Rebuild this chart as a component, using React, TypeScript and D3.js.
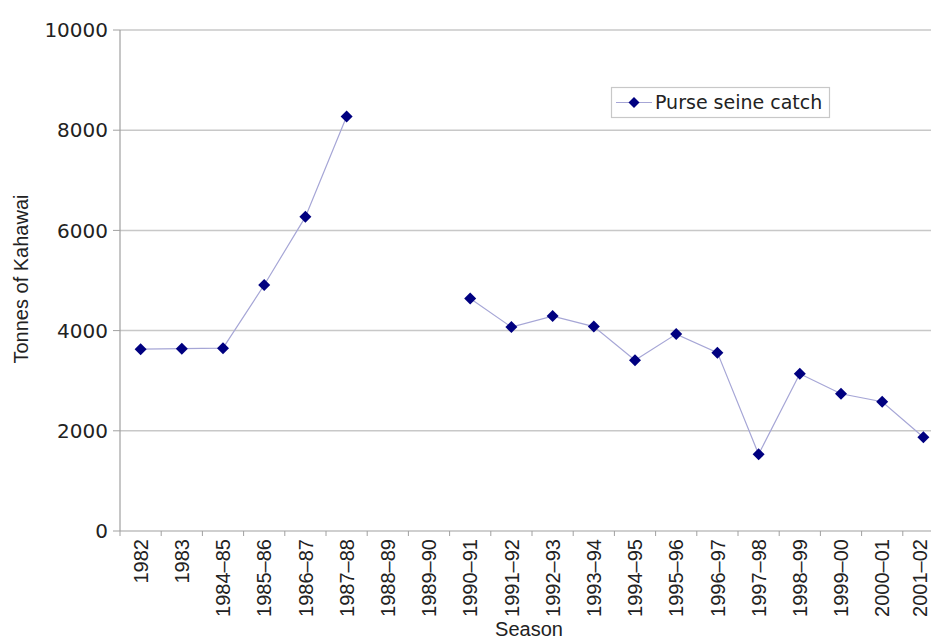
import React from "react";
import * as d3 from "d3";

const seasons = [
  "1982", "1983", "1984–85", "1985–86", "1986–87", "1987–88", "1988–89", "1989–90",
  "1990–91", "1991–92", "1992–93", "1993–94", "1994–95", "1995–96", "1996–97",
  "1997–98", "1998–99", "1999–00", "2000–01", "2001–02",
];
const catchTonnes: (number | null)[] = [
  3630, 3640, 3650, 4910, 6270, 8275, null, null,
  4640, 4070, 4290, 4080, 3410, 3930, 3560,
  1530, 3140, 2740, 2580, 1870,
];
const yTicks = [0, 2000, 4000, 6000, 8000, 10000];
const seriesName = "Purse seine catch";
const yTitle = "Tonnes of Kahawai";
const xTitle = "Season";

const W = 931;
const H = 641;
const left = 120;
const bandW = 41.2;
const top = 30;
const bottom = 531;

export default function App() {
  const x = d3.scaleBand<string>().domain(seasons).range([left, left + bandW * seasons.length]);
  const y = d3.scaleLinear().domain([0, 10000]).range([bottom, top]);
  const cx = (s: string) => (x(s) as number) + x.bandwidth() / 2;
  const pts = seasons.map((s, i) => ({ s, v: catchTonnes[i] }));
  const line = d3
    .line<{ s: string; v: number | null }>()
    .defined((d) => d.v !== null)
    .x((d) => cx(d.s))
    .y((d) => y(d.v as number));
  const diamond = (r: number) => `M0,${-r}L${r},0L0,${r}L${-r},0Z`;
  const navy = "#000080";
  const lineCol = "#a6a6d6";
  const right = left + bandW * seasons.length;

  return (
    <svg width={W} height={H} style={{ position: "absolute", left: 0, top: 0, background: "#fff" }}>
      {yTicks.map((t) => (
        <g key={t}>
          {t > 0 && (
            <line x1={left} x2={right} y1={y(t)} y2={y(t)} stroke="#c8c8c8" strokeWidth={1.5} />
          )}
          <line x1={left - 7} x2={left} y1={y(t)} y2={y(t)} stroke="#a0a0a0" strokeWidth={1} />
          <text
            x={108}
            y={y(t)}
            dy="0.36em"
            textAnchor="end"
            fontFamily="DejaVu Sans"
            fontSize={20}
            fill="#222"
          >
            {t}
          </text>
        </g>
      ))}
      <line x1={left} x2={left} y1={top} y2={bottom} stroke="#a0a0a0" strokeWidth={1.2} />
      <line x1={left} x2={right} y1={bottom} y2={bottom} stroke="#a0a0a0" strokeWidth={1.2} />
      {seasons.map((s) => (
        <g key={s}>
          <line
            x1={x(s) as number}
            x2={x(s) as number}
            y1={bottom}
            y2={bottom + 5}
            stroke="#a0a0a0"
            strokeWidth={1}
          />
          <text
            transform={`translate(${Math.min(cx(s), 920)},${bottom + 8}) rotate(-90)`}
            dy="0.36em"
            textAnchor="end"
            fontFamily="Liberation Sans"
            fontSize={20}
            fill="#222"
          >
            {s}
          </text>
        </g>
      ))}
      <path d={line(pts) || ""} fill="none" stroke={lineCol} strokeWidth={1.2} />
      {pts
        .filter((p) => p.v !== null)
        .map((p) => (
          <path
            key={p.s}
            d={diamond(6)}
            transform={`translate(${cx(p.s)},${y(p.v as number)})`}
            fill={navy}
          />
        ))}
      <text
        transform={`translate(28,279) rotate(-90)`}
        textAnchor="middle"
        fontFamily="Liberation Sans"
        fontSize={20}
        fill="#222"
      >
        {yTitle}
      </text>
      <text x={529} y={636} textAnchor="middle" fontFamily="Liberation Sans" fontSize={20} fill="#222">
        {xTitle}
      </text>
      <g>
        <rect x={611.5} y={87.5} width={218} height={30} fill="#fff" stroke="#c8c8c8" strokeWidth={1.2} />
        <line x1={616} x2={652} y1={102.5} y2={102.5} stroke={lineCol} strokeWidth={1.2} />
        <path d={diamond(5.5)} transform="translate(634,102.5)" fill={navy} />
        <text x={655} y={102.5} dy="0.36em" fontFamily="DejaVu Sans" fontSize={19} fill="#222">
          {seriesName}
        </text>
      </g>
    </svg>
  );
}
